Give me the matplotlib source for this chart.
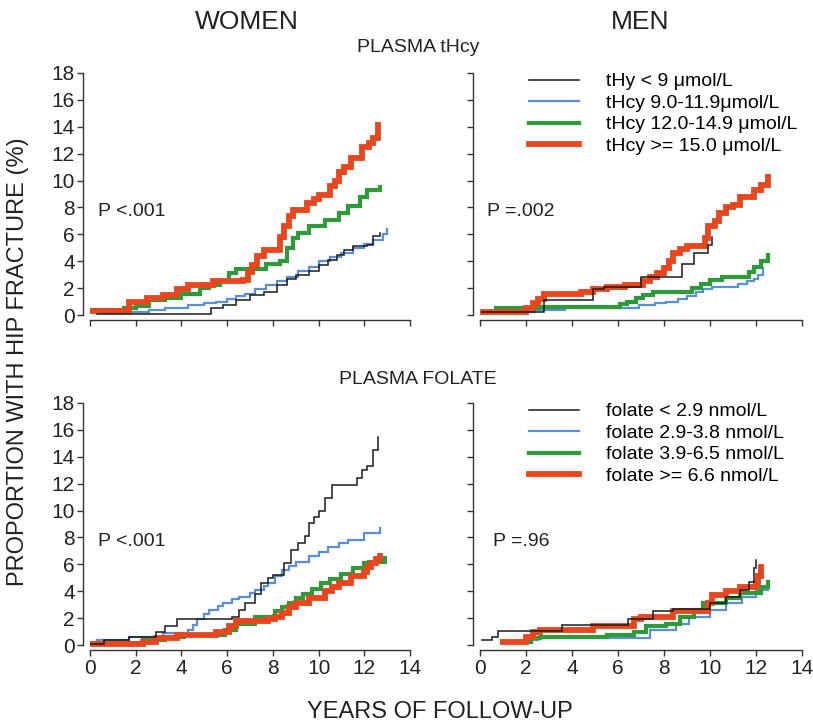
import matplotlib
matplotlib.use("Agg")
import matplotlib.pyplot as plt
from matplotlib import font_manager

# pick a narrow face for the axis text if one is installed
names = {f.name for f in font_manager.fontManager.ttflist}
narrow = "Liberation Sans Narrow" if "Liberation Sans Narrow" in names else "Liberation Sans"
plt.rcParams["font.family"] = ["Liberation Sans", "DejaVu Sans"]

# ---- data: (time of jump, cumulative % after jump) ----
# women, plasma tHcy
w_hcy_black_x = [0.3, 5.3, 5.8, 6.4, 7.0, 7.6, 8.2, 8.6, 9.0, 9.6, 10.0, 10.4, 10.8, 11.1, 11.5, 12.1, 12.4, 12.7]
w_hcy_black_y = [0.1, 0.5, 0.75, 1.1, 1.5, 1.7, 2.2, 2.7, 3.0, 3.3, 3.7, 4.1, 4.5, 4.8, 5.1, 5.2, 5.9, 6.1]
w_hcy_blue_x = [0.3, 2.6, 3.3, 4.3, 5.0, 5.5, 6.0, 6.4, 6.8, 7.2, 7.7, 8.2, 8.6, 9.1, 9.6, 10.0, 10.5, 11.0, 11.5, 12.0, 12.4, 12.8, 13.0]
w_hcy_blue_y = [0.25, 0.4, 0.5, 0.75, 0.9, 1.0, 1.2, 1.4, 1.6, 1.9, 2.2, 2.5, 2.8, 3.3, 3.6, 4.0, 4.3, 4.6, 5.0, 5.3, 5.6, 6.0, 6.4]
w_hcy_green_x = [0.1, 1.5, 2.0, 2.6, 3.3, 4.0, 4.8, 5.2, 5.7, 6.1, 6.4, 7.7, 8.3, 8.6, 8.9, 9.1, 9.6, 10.3, 10.9, 11.3, 11.8, 12.1, 12.7]
w_hcy_green_y = [0.35, 0.5, 0.7, 1.1, 1.3, 1.6, 2.0, 2.2, 2.5, 3.1, 3.4, 3.8, 4.0, 5.0, 5.7, 6.1, 6.6, 7.1, 7.6, 8.1, 8.8, 9.3, 9.5]
w_hcy_red_x = [0.15, 1.7, 2.5, 3.2, 3.8, 4.3, 5.4, 6.7, 6.9, 7.1, 7.3, 7.6, 8.3, 8.5, 8.7, 8.9, 9.5, 9.8, 10.0, 10.5, 10.7, 10.9, 11.1, 11.4, 11.9, 12.2, 12.4, 12.6]
w_hcy_red_y = [0.3, 1.0, 1.25, 1.5, 1.9, 2.2, 2.5, 2.6, 3.2, 3.7, 4.4, 4.8, 5.8, 6.6, 7.4, 7.8, 8.3, 8.6, 8.9, 9.6, 10.0, 10.6, 11.0, 11.7, 12.5, 12.8, 13.2, 14.1]

# men, plasma tHcy
m_hcy_black_x = [0.1, 2.8, 4.9, 5.4, 7.0, 8.8, 9.3, 9.9, 10.1]
m_hcy_black_y = [0.2, 1.1, 1.9, 2.1, 2.8, 3.8, 4.6, 5.2, 5.8]
m_hcy_blue_x = [0.15, 2.4, 3.7, 6.9, 7.6, 8.1, 8.6, 9.0, 9.4, 9.7, 10.1, 11.2, 11.6, 11.9, 12.1, 12.3]
m_hcy_blue_y = [0.2, 0.4, 0.5, 0.75, 0.9, 1.0, 1.2, 1.4, 1.7, 1.9, 2.1, 2.3, 2.5, 2.7, 3.0, 3.5]
m_hcy_green_x = [0.15, 0.7, 2.5, 6.1, 6.4, 6.8, 7.1, 7.5, 9.2, 9.6, 10.0, 10.5, 11.7, 11.9, 12.2, 12.5]
m_hcy_green_y = [0.25, 0.5, 0.6, 0.8, 1.0, 1.3, 1.5, 1.7, 2.0, 2.3, 2.6, 2.85, 3.2, 3.6, 4.0, 4.5]
m_hcy_red_x = [0.15, 2.0, 2.3, 2.5, 2.8, 4.4, 4.9, 5.5, 6.3, 7.1, 7.4, 7.7, 8.0, 8.2, 8.4, 8.7, 9.0, 9.8, 9.9, 10.2, 10.4, 10.7, 11.0, 11.3, 11.9, 12.2, 12.5]
m_hcy_red_y = [0.25, 0.5, 0.9, 1.2, 1.6, 1.7, 1.9, 2.1, 2.2, 2.5, 2.8, 3.1, 3.5, 4.0, 4.6, 4.9, 5.1, 5.7, 6.6, 7.0, 7.6, 8.0, 8.2, 8.8, 9.3, 9.7, 10.3]

# women, plasma folate
w_fol_black_x = [0.05, 0.6, 1.7, 2.9, 3.3, 3.8, 6.2, 6.5, 6.8, 7.2, 7.5, 7.8, 8.0, 8.5, 8.8, 9.1, 9.4, 9.6, 9.8, 10.0, 10.3, 10.6, 11.7, 11.9, 12.1, 12.4, 12.6]
w_fol_black_y = [0.1, 0.4, 0.6, 1.0, 1.4, 1.9, 2.1, 2.6, 3.1, 3.8, 4.6, 5.0, 5.2, 6.1, 7.1, 7.6, 8.1, 9.1, 9.5, 10.0, 10.9, 11.9, 12.4, 13.0, 13.3, 14.5, 15.5]
w_fol_blue_x = [0.3, 1.7, 3.2, 4.3, 4.5, 4.7, 5.0, 5.2, 5.6, 5.8, 6.2, 6.5, 7.0, 7.2, 7.6, 7.8, 8.1, 8.4, 8.7, 9.0, 9.6, 10.0, 10.4, 10.9, 11.3, 12.0, 12.7]
w_fol_blue_y = [0.35, 0.6, 0.9, 1.1, 1.5, 1.9, 2.3, 2.6, 2.9, 3.1, 3.4, 3.6, 3.9, 4.1, 4.4, 4.6, 5.1, 5.6, 5.9, 6.2, 6.6, 6.9, 7.3, 7.6, 7.8, 8.3, 8.7]
w_fol_green_x = [0.1, 2.3, 3.3, 4.1, 5.9, 6.4, 7.2, 8.1, 8.4, 8.7, 9.0, 9.3, 9.7, 10.1, 10.5, 11.0, 11.5, 12.0, 12.2, 12.9]
w_fol_green_y = [0.12, 0.37, 0.6, 0.75, 1.1, 1.6, 2.1, 2.5, 2.8, 3.1, 3.5, 3.8, 4.2, 4.6, 4.9, 5.3, 5.7, 6.1, 6.2, 6.5]
w_fol_red_x = [0.15, 2.3, 2.9, 3.8, 5.5, 6.1, 6.4, 7.8, 8.1, 8.4, 8.7, 9.0, 9.6, 10.3, 10.6, 10.9, 11.4, 12.0, 12.1, 12.3, 12.5, 12.7]
w_fol_red_y = [0.1, 0.25, 0.5, 0.75, 1.0, 1.4, 1.75, 1.9, 2.1, 2.4, 2.8, 3.1, 3.5, 4.0, 4.3, 4.6, 5.1, 5.4, 5.8, 6.1, 6.4, 6.6]

# men, plasma folate
m_fol_black_x = [0.07, 0.5, 0.8, 3.55, 6.45, 7.5, 8.4, 10.0, 10.7, 11.3, 11.7, 11.9, 12.0]
m_fol_black_y = [0.37, 0.6, 1.07, 1.5, 1.9, 2.5, 2.7, 3.1, 3.6, 4.1, 4.7, 5.7, 6.3]
m_fol_blue_x = [0.95, 2.0, 2.5, 7.4, 8.5, 9.1, 10.0, 10.7, 11.4, 12.0, 12.5]
m_fol_blue_y = [0.2, 0.37, 0.55, 1.1, 1.6, 2.1, 2.6, 3.1, 3.6, 4.1, 4.5]
m_fol_green_x = [0.95, 2.2, 2.6, 5.5, 6.7, 7.2, 8.1, 8.7, 9.3, 9.7, 10.7, 11.3, 12.2, 12.5]
m_fol_green_y = [0.2, 0.5, 0.6, 0.75, 1.0, 1.4, 1.6, 2.1, 2.6, 3.1, 3.5, 3.85, 4.3, 4.7]
m_fol_red_x = [1.0, 2.0, 2.3, 2.6, 4.9, 6.7, 7.0, 8.4, 9.9, 10.1, 10.7, 11.3, 12.0, 12.1, 12.2]
m_fol_red_y = [0.2, 0.6, 1.0, 1.15, 1.4, 1.9, 2.1, 2.5, 3.1, 3.7, 4.0, 4.3, 4.6, 5.1, 5.8]

hcy_labels = ["tHy < 9 \u03bcmol/L", "tHcy 9.0-11.9\u03bcmol/L",
              "tHcy 12.0-14.9 \u03bcmol/L", "tHcy >= 15.0 \u03bcmol/L"]
fol_labels = ["folate < 2.9 nmol/L", "folate 2.9-3.8 nmol/L",
              "folate 3.9-6.5 nmol/L", "folate >= 6.6 nmol/L"]
p_texts = ["P <.001", "P =.002", "P <.001", "P =.96"]

colors = ["#1a1a1a", "#5a8fd8", "#2f9a3a", "#e8461e"]
widths = [1.1, 1.6, 3.0, 4.2]

panels = [
    [(w_hcy_black_x, w_hcy_black_y), (w_hcy_blue_x, w_hcy_blue_y),
     (w_hcy_green_x, w_hcy_green_y), (w_hcy_red_x, w_hcy_red_y)],
    [(m_hcy_black_x, m_hcy_black_y), (m_hcy_blue_x, m_hcy_blue_y),
     (m_hcy_green_x, m_hcy_green_y), (m_hcy_red_x, m_hcy_red_y)],
    [(w_fol_black_x, w_fol_black_y), (w_fol_blue_x, w_fol_blue_y),
     (w_fol_green_x, w_fol_green_y), (w_fol_red_x, w_fol_red_y)],
    [(m_fol_black_x, m_fol_black_y), (m_fol_blue_x, m_fol_blue_y),
     (m_fol_green_x, m_fol_green_y), (m_fol_red_x, m_fol_red_y)],
]

fig = plt.figure(figsize=(8.13, 7.24), dpi=100)
W, H = 813, 724
lefts = [83.1, 473.1]
widths_px = [333.8, 335.8]
bottoms = [320.4, 650.4]
hpx = 250.1

for i, series in enumerate(panels):
    row, col = divmod(i, 2)
    ax = fig.add_axes([lefts[col] / W, 1 - bottoms[row] / H,
                       widths_px[col] / W, hpx / H])
    for (xs, ys), c, lw, lab in zip(series, colors, widths,
                                    hcy_labels if row == 0 else fol_labels):
        ax.step(xs, ys, where="post", color=c, lw=lw, label=lab,
                solid_joinstyle="miter", zorder=3 if c != colors[0] else 5)
    ax.set_xlim(-0.3, 14.3)
    ax.set_ylim(-0.4, 18.2)
    for s in ["top", "right"]:
        ax.spines[s].set_visible(False)
    ax.spines["left"].set_bounds(0, 18)
    ax.spines["bottom"].set_bounds(0, 14)
    for s in ["left", "bottom"]:
        ax.spines[s].set_color("#333333")
        ax.spines[s].set_linewidth(1.0)
    ax.set_xticks(range(0, 15, 2))
    ax.set_yticks(range(0, 19, 2))
    ax.tick_params(direction="out", length=4, width=1.0, color="#333333",
                   labelsize=15, labelcolor="#222222", pad=2)
    for lbl in ax.get_xticklabels() + ax.get_yticklabels():
        lbl.set_family(narrow)
    if row == 0:
        ax.tick_params(labelbottom=False)
    if col == 1:
        ax.tick_params(labelleft=False)
    ax.text(0.35 if col == 0 else (0.3 if row == 0 else 0.58), 7.7, p_texts[i],
            fontsize=14, color="#222222", va="center", ha="left")
    if col == 1:
        ax.legend(loc="upper left", bbox_to_anchor=(0.165, 0.99), frameon=False,
                  fontsize=14, handlelength=2.6, handletextpad=1.4,
                  labelspacing=0.2, borderaxespad=0, borderpad=0)

fig.text(247 / W, 1 - 22 / H, "WOMEN", ha="center", va="center",
         fontsize=19, family=narrow, color="#222222")
fig.text(640 / W, 1 - 22 / H, "MEN", ha="center", va="center",
         fontsize=19, family=narrow, color="#222222")
fig.text(418 / W, 1 - 48 / H, "PLASMA tHcy", ha="center", va="center",
         fontsize=14, family=narrow, color="#222222")
fig.text(418 / W, 1 - 380 / H, "PLASMA FOLATE", ha="center", va="center",
         fontsize=14, family=narrow, color="#222222")
fig.text(18 / W, 1 - 362 / H, "PROPORTION WITH HIP FRACTURE (%)", ha="center",
         va="center", rotation=90, fontsize=17, family=narrow, color="#222222")
fig.text(440 / W, 1 - 712 / H, "YEARS OF FOLLOW-UP", ha="center", va="center",
         fontsize=17, family=narrow, color="#222222")

fig.savefig("out.png", dpi=100, facecolor="white")
